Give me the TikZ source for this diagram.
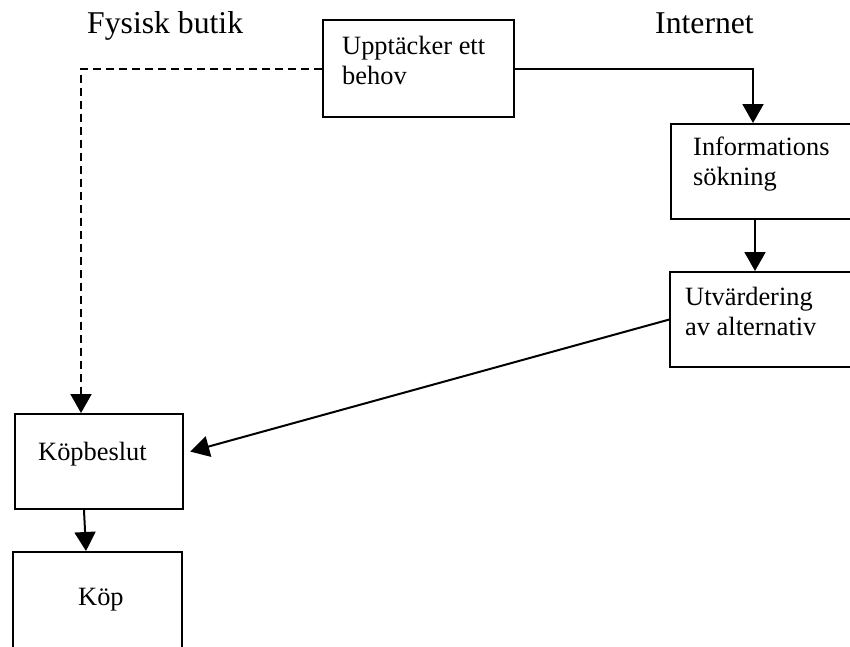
\documentclass[tikz,border=0pt]{standalone}
\usepackage{fontspec}
\setmainfont{Liberation Serif}
\usetikzlibrary{arrows.meta}

\tikzset{
ruta/.style={draw, line width=2.2pt, minimum height=95pt, anchor=north west, inner sep=0pt},
rutatext/.style={anchor=base west, inner sep=0pt, align=left, font=\fontsize{26.4}{30}\selectfont},
rubrik/.style={anchor=base west, inner sep=0pt, font=\fontsize{31.7}{36}\selectfont},
pil/.style={line width=2pt, ->}
}

\begin{document}
\begin{tikzpicture}[x=1pt, y=-1pt, >={Triangle[width=21pt,length=19pt]}]
\clip (0,0) rectangle (850,646);
\node[rubrik] (fysisk) at (87,33) {Fysisk butik};
\node[rubrik] (internet) at (655,33) {Internet};

\node[ruta, minimum width=191pt, minimum height=97pt] (behov) at (322,19) {};
\node[ruta, minimum width=190pt] (info) at (670,123) {};
\node[ruta, minimum width=190pt] (utv) at (669,271) {};
\node[ruta, minimum width=168pt] (kopbeslut) at (14,413) {};
\node[ruta, minimum width=169pt, minimum height=110pt] (kop) at (12,551) {};

\node[rutatext] (behovtext) at (342,84) {Upptäcker ett\\behov};
\node[rutatext] (infotext) at (693,185) {Informations\\sökning};
\node[rutatext] (utvtext) at (685,335) {Utvärdering\\av alternativ};
\node[rutatext] (kopbesluttext) at (38,460) {Köpbeslut};
\node[rutatext] (koptext) at (78,605) {Köp};

\draw[pil, dash pattern=on 8pt off 5pt] (behov.west) -| ([xshift=67pt]kopbeslut.north west);
\draw[pil] (behov.east) -| ([xshift=83pt]info.north west);
\draw[pil] ([xshift=85pt]info.south west) -- ([xshift=86pt]utv.north west);
\draw[pil] (utv.west) -- ([xshift=6pt,yshift=10pt]kopbeslut.east);
\draw[pil] ([xshift=70pt]kopbeslut.south west) -- ([xshift=74pt]kop.north west);
\end{tikzpicture}
\end{document}
